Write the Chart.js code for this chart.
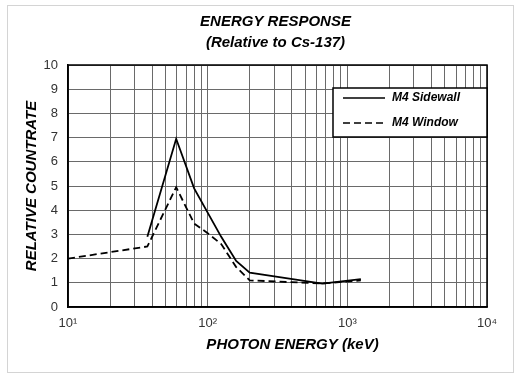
<!DOCTYPE html>
<html>
<head>
<meta charset="utf-8">
<script src="https://cdn.jsdelivr.net/npm/chart.js@4.4.1/dist/chart.umd.min.js"></script>
<style>
  html, body { margin: 0; padding: 0; background: #fff; }
  #frame { position: absolute; left: 7px; top: 5px; width: 505px; height: 366px; border: 1px solid #d4d4d4; }
  #wrap { position: absolute; left: 0; top: 0; width: 521px; height: 377px; }
</style>
</head>
<body>
<div id="frame"></div>
<div id="wrap"><canvas id="energyChart" width="521" height="377"></canvas></div>
<script>
// energias (keV) e respostas
const sidewallEnergy = [37, 59.5, 80, 100, 125, 160, 200, 662, 1250];
const sidewallValues = [2.9, 6.95, 4.9, 3.9, 2.9, 1.9, 1.42, 0.97, 1.15];
const windowEnergy = [10, 37, 59.5, 80, 100, 125, 160, 200, 662, 1250];
const windowValues = [2.0, 2.5, 4.95, 3.45, 3.05, 2.6, 1.65, 1.1, 0.97, 1.1];

const seriesLabels = ["M4 Sidewall", "M4 Window"];
const decades = [10, 100, 1000, 10000];
const decadeLabels = ["10\u00B9", "10\u00B2", "10\u00B3", "10\u2074"];
const titleLines = ["ENERGY RESPONSE", "(Relative to Cs-137)"];
const xTitle = "PHOTON ENERGY (keV)";

const FONT = "'Liberation Sans', Arial, sans-serif";

const toPoints = (xs, ys) => xs.map((x, i) => ({ x: x, y: ys[i] }));

// ticks 1..9 x 10^n para as linhas verticais
const xTicks = [];
for (let d = 0; d < decades.length - 1; d++) {
  for (let m = 1; m < 10; m++) xTicks.push(decades[d] * m);
}
xTicks.push(decades[decades.length - 1]);

// moldura preta, legenda e títulos
const framePlugin = {
  id: "frameAndLegend",
  afterDatasetsDraw(chart) {
    const { ctx, chartArea: a } = chart;
    ctx.save();
    ctx.strokeStyle = "#000";
    ctx.lineWidth = 1.5;
    ctx.strokeRect(a.left, a.top, a.right - a.left, a.bottom - a.top);

    const box = { x: 333, y: 88, w: a.right - 333, h: 49 };
    ctx.fillStyle = "#fff";
    ctx.fillRect(box.x, box.y, box.w, box.h);
    ctx.strokeRect(box.x, box.y, box.w, box.h);

    chart.data.datasets.forEach((ds, i) => {
      const y = box.y + 10 + i * 25;
      ctx.beginPath();
      ctx.setLineDash(ds.borderDash || []);
      ctx.lineWidth = 1.6;
      ctx.strokeStyle = "#000";
      ctx.moveTo(box.x + 10, y);
      ctx.lineTo(box.x + 52, y);
      ctx.stroke();
      ctx.setLineDash([]);
      ctx.fillStyle = "#000";
      ctx.font = "italic bold 12px " + FONT;
      ctx.textBaseline = "middle";
      ctx.textAlign = "left";
      ctx.fillText(ds.label, box.x + 59, y);
    });
    ctx.restore();
  },
  afterDraw(chart) {
    const { ctx, chartArea: a } = chart;
    const cx = (a.left + a.right) / 2;
    ctx.save();
    ctx.fillStyle = "#000";
    ctx.textAlign = "center";
    ctx.textBaseline = "middle";
    ctx.font = "italic bold 15px " + FONT;
    ctx.fillText(titleLines[0], cx - 2, 22);
    ctx.fillText(titleLines[1], cx - 2, 43);
    ctx.fillText(xTitle, cx + 15, 345);
    ctx.restore();
  },
};

const ctx = document.getElementById("energyChart").getContext("2d");

const chart = new Chart(ctx, {
  type: "line",
  data: {
    datasets: [
      {
        label: seriesLabels[0],
        data: toPoints(sidewallEnergy, sidewallValues),
        borderColor: "#000",
        borderWidth: 1.8,
        pointRadius: 0,
        tension: 0,
      },
      {
        label: seriesLabels[1],
        data: toPoints(windowEnergy, windowValues),
        borderColor: "#000",
        borderWidth: 1.8,
        borderDash: [7, 4],
        pointRadius: 0,
        tension: 0,
      },
    ],
  },
  options: {
    responsive: false,
    animation: false,
    layout: { padding: { left: 0, right: 34, top: 65, bottom: 0 } },
    scales: {
      x: {
        type: "logarithmic",
        min: 10,
        max: 10000,
        afterBuildTicks: (scale) => {
          scale.ticks = xTicks.map((v) => ({ value: v }));
        },
        afterFit: (scale) => { scale.height = 70; },
        ticks: {
          autoSkip: false,
          maxRotation: 0,
          color: "#333",
          font: { family: FONT, size: 13 },
          padding: 9,
          callback: (v) => {
            const i = decades.indexOf(v);
            return i >= 0 ? decadeLabels[i] : "";
          },
        },
        grid: { color: "#6a6a6a", lineWidth: 1, drawTicks: false },
        border: { color: "#000", width: 1.5 },
      },
      y: {
        min: 0,
        max: 10,
        afterFit: (scale) => { scale.width = 68; },
        ticks: {
          stepSize: 1,
          color: "#333",
          font: { family: FONT, size: 13 },
          padding: 10,
        },
        grid: { color: "#6a6a6a", lineWidth: 1, drawTicks: false },
        border: { color: "#000", width: 1.5 },
        title: {
          display: true,
          text: "RELATIVE COUNTRATE",
          color: "#000",
          font: { family: FONT, size: 15, weight: "bold", style: "italic" },
          padding: { top: 23, bottom: 0 },
        },
      },
    },
    plugins: {
      legend: { display: false },
      tooltip: { enabled: false },
      title: { display: false },
    },
  },
  plugins: [framePlugin],
});
</script>
</body>
</html>
